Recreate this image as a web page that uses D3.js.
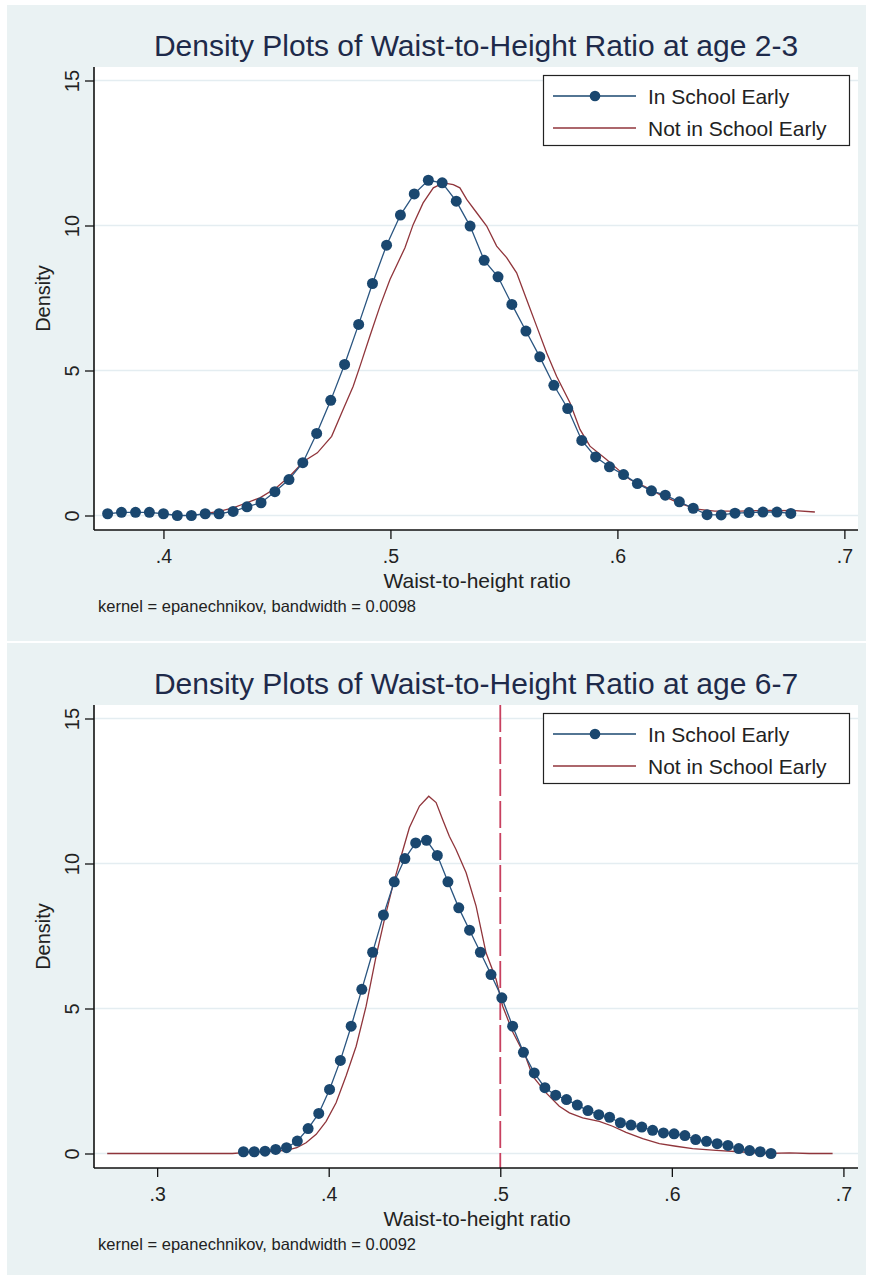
<!DOCTYPE html>
<html>
<head>
<meta charset="utf-8">
<script src="https://cdn.jsdelivr.net/npm/d3@7"></script>
<style>
  body { margin: 0; background: #fff; }
  svg text { font-family: "Liberation Sans", Arial, sans-serif; }
</style>
</head>
<body>
<svg id="chart" width="870" height="1275"></svg>
<script>
// ---- data (kernel density estimates) ----
const legendLabels = ['In School Early', 'Not in School Early'];
const yTicks = [0, 5, 10, 15];

// age 2-3
const titleA = 'Density Plots of Waist-to-Height Ratio at age 2-3';
const noteA = 'kernel = epanechnikov, bandwidth = 0.0098';
const xTicksA = [0.4, 0.5, 0.6, 0.7];
const inSchoolA_x = [0.3754, 0.3815, 0.3877, 0.3938, 0.4000, 0.4061, 0.4123, 0.4184, 0.4245, 0.4307,
  0.4368, 0.4430, 0.4491, 0.4553, 0.4614, 0.4675, 0.4737, 0.4798, 0.4860, 0.4921,
  0.4983, 0.5044, 0.5105, 0.5167, 0.5228, 0.5290, 0.5351, 0.5413, 0.5474, 0.5535,
  0.5597, 0.5658, 0.5720, 0.5781, 0.5843, 0.5904, 0.5965, 0.6027, 0.6088, 0.6150,
  0.6211, 0.6273, 0.6334, 0.6395, 0.6457, 0.6518, 0.6580, 0.6641, 0.6703, 0.6764];
const inSchoolA_y = [0.06, 0.11, 0.11, 0.11, 0.06, 0.0, 0.0, 0.06, 0.06, 0.14,
  0.30, 0.44, 0.82, 1.24, 1.82, 2.83, 3.97, 5.21, 6.59, 8.00,
  9.32, 10.36, 11.09, 11.56, 11.47, 10.84, 9.98, 8.80, 8.23, 7.28,
  6.36, 5.47, 4.49, 3.69, 2.59, 2.02, 1.68, 1.41, 1.10, 0.85,
  0.70, 0.47, 0.25, 0.03, 0.02, 0.08, 0.10, 0.12, 0.12, 0.07];
const notSchoolA_x = [0.4190, 0.4249, 0.4307, 0.4367, 0.4425, 0.4496, 0.4557, 0.4619, 0.4678, 0.4741,
  0.4792, 0.4836, 0.4866, 0.4910, 0.4954, 0.4998, 0.5064, 0.5100, 0.5144, 0.5189,
  0.5233, 0.5277, 0.5306, 0.5336, 0.5380, 0.5424, 0.5468, 0.5512, 0.5556, 0.5600,
  0.5644, 0.5688, 0.5732, 0.5791, 0.5835, 0.5879, 0.5952, 0.6011, 0.6055, 0.6121,
  0.6187, 0.6275, 0.6350, 0.6429, 0.6540, 0.6672, 0.6782, 0.6870];
const notSchoolA_y = [0.07, 0.15, 0.26, 0.44, 0.61, 0.95, 1.36, 1.87, 2.16, 2.73,
  3.66, 4.46, 5.15, 6.20, 7.22, 8.14, 9.23, 10.03, 10.78, 11.30,
  11.47, 11.41, 11.30, 10.90, 10.44, 9.98, 9.29, 8.89, 8.37, 7.45,
  6.53, 5.61, 4.80, 3.89, 2.97, 2.39, 1.93, 1.53, 1.24, 1.00,
  0.72, 0.42, 0.22, 0.15, 0.15, 0.18, 0.17, 0.12];

// age 6-7
const titleB = 'Density Plots of Waist-to-Height Ratio at age 6-7';
const noteB = 'kernel = epanechnikov, bandwidth = 0.0092';
const xTicksB = [0.3, 0.4, 0.5, 0.6, 0.7];
const refLineB = 0.5;
const inSchoolB_x = [0.3503, 0.3566, 0.3629, 0.3691, 0.3754, 0.3817, 0.3880, 0.3942, 0.4005, 0.4068,
  0.4131, 0.4193, 0.4256, 0.4319, 0.4382, 0.4444, 0.4507, 0.4570, 0.4633, 0.4695,
  0.4758, 0.4821, 0.4884, 0.4946, 0.5009, 0.5072, 0.5135, 0.5198, 0.5260, 0.5323,
  0.5386, 0.5449, 0.5511, 0.5574, 0.5637, 0.5700, 0.5762, 0.5825, 0.5888, 0.5951,
  0.6013, 0.6076, 0.6139, 0.6202, 0.6264, 0.6327, 0.6390, 0.6453, 0.6515, 0.6578];
const inSchoolB_y = [0.06, 0.06, 0.08, 0.14, 0.20, 0.43, 0.86, 1.38, 2.21, 3.21,
  4.39, 5.66, 6.94, 8.22, 9.37, 10.17, 10.71, 10.80, 10.28, 9.37,
  8.47, 7.70, 6.94, 6.17, 5.37, 4.39, 3.49, 2.78, 2.27, 2.01,
  1.86, 1.67, 1.48, 1.34, 1.25, 1.06, 0.98, 0.91, 0.80, 0.71,
  0.68, 0.62, 0.48, 0.42, 0.34, 0.28, 0.17, 0.10, 0.06, 0.0];
const notSchoolB_x = [0.2709, 0.3439, 0.3503, 0.3625, 0.3752, 0.3814, 0.3868, 0.3927, 0.3985, 0.4043,
  0.4101, 0.4160, 0.4218, 0.4276, 0.4325, 0.4373, 0.4422, 0.4470, 0.4529, 0.4583,
  0.4626, 0.4664, 0.4703, 0.4742, 0.4801, 0.4859, 0.4917, 0.4976, 0.5014, 0.5072,
  0.5150, 0.5189, 0.5267, 0.5344, 0.5403, 0.5480, 0.5577, 0.5655, 0.5733, 0.5830,
  0.5927, 0.6024, 0.6121, 0.6258, 0.6393, 0.6549, 0.6685, 0.6801, 0.6937];
const notSchoolB_y = [0.0, 0.0, 0.03, 0.06, 0.11, 0.20, 0.37, 0.66, 1.11, 1.75,
  2.67, 3.70, 5.08, 6.80, 8.07, 9.22, 10.25, 11.23, 11.98, 12.32,
  12.10, 11.52, 10.94, 10.48, 9.68, 8.53, 6.92, 6.00, 5.08, 4.20,
  3.30, 2.67, 2.09, 1.63, 1.40, 1.23, 1.11, 0.94, 0.73, 0.51,
  0.34, 0.25, 0.17, 0.11, 0.06, 0.0, 0.02, 0.0, 0.0];

// ---- styling ----
const blue = '#1a476f';
const red = '#90353b';
const panelBg = '#eaf2f3';
const textCol = '#1e2a4a';

const svg = d3.select('#chart');
const zip = (xs, ys) => xs.map((x, i) => ({ x: x, y: ys[i] }));

const drawPanel = (top, cfg) => {
  const g = svg.append('g').attr('transform', 'translate(0,' + top + ')');
  const plot = { left: 94, right: 858, top: 62, bottom: 525 };

  g.append('rect').attr('x', 7).attr('y', 0).attr('width', 859).attr('height', 636)
    .attr('fill', panelBg);
  g.append('rect').attr('x', plot.left).attr('y', plot.top)
    .attr('width', plot.right - plot.left).attr('height', plot.bottom - plot.top)
    .attr('fill', '#fff');

  const x = d3.scaleLinear().domain(cfg.xDomain).range([plot.left, plot.right]);
  const y = d3.scaleLinear().domain([0, 15]).range([510.5, 75.5]);

  // gridlines
  g.append('g').selectAll('line').data(yTicks).enter().append('line')
    .attr('x1', plot.left).attr('x2', plot.right)
    .attr('y1', d => y(d)).attr('y2', d => y(d))
    .attr('stroke', '#e4edf1').attr('stroke-width', 1.5);

  if (cfg.refLine != null) {
    g.append('line').attr('x1', x(cfg.refLine)).attr('x2', x(cfg.refLine))
      .attr('y1', plot.top).attr('y2', plot.bottom)
      .attr('stroke', '#c8405f').attr('stroke-width', 1.8)
      .attr('stroke-dasharray', '27,5');
  }

  const line = d3.line().x(d => x(d.x)).y(d => y(d.y));
  g.append('path').datum(zip(cfg.redX, cfg.redY)).attr('d', line)
    .attr('fill', 'none').attr('stroke', red).attr('stroke-width', 1.3);
  const blueData = zip(cfg.blueX, cfg.blueY);
  g.append('path').datum(blueData).attr('d', line)
    .attr('fill', 'none').attr('stroke', '#2a5580').attr('stroke-width', 1.3);
  g.append('g').selectAll('circle').data(blueData).enter().append('circle')
    .attr('cx', d => x(d.x)).attr('cy', d => y(d.y)).attr('r', 5.5)
    .attr('fill', blue);

  // axes
  const yAxis = d3.axisLeft(y).tickValues(yTicks).tickSize(9).tickFormat(d3.format('d'));
  const ya = g.append('g').attr('transform', 'translate(' + plot.left + ',0)').call(yAxis);
  ya.select('.domain').attr('d', 'M0,' + plot.top + 'V' + plot.bottom)
    .attr('stroke', '#111').attr('stroke-width', 1.6);
  ya.selectAll('.tick line').attr('stroke', '#111').attr('stroke-width', 1.3);
  ya.selectAll('.tick text').attr('transform', 'rotate(-90)')
    .attr('x', 0).attr('y', -15).attr('dy', 0)
    .attr('text-anchor', 'middle').attr('font-size', 20)
    .attr('fill', '#222').style('font-family', '"Liberation Sans", Arial, sans-serif');

  const xAxis = d3.axisBottom(x).tickValues(cfg.xTicks).tickSize(9)
    .tickFormat(d => d3.format('.1f')(d).replace(/^0/, ''));
  const xa = g.append('g').attr('transform', 'translate(0,' + plot.bottom + ')').call(xAxis);
  xa.select('.domain').attr('d', 'M' + plot.left + ',0H' + plot.right)
    .attr('stroke', '#111').attr('stroke-width', 1.6);
  xa.selectAll('.tick line').attr('stroke', '#111').attr('stroke-width', 1.3);
  xa.selectAll('.tick text').attr('y', 33).attr('dy', 0).attr('font-size', 19.5)
    .attr('fill', '#222').style('font-family', '"Liberation Sans", Arial, sans-serif');

  // titles
  g.append('text').attr('x', 476).attr('y', 51).attr('text-anchor', 'middle')
    .attr('font-size', 30).attr('fill', textCol).text(cfg.title);
  g.append('text').attr('x', 477).attr('y', 583).attr('text-anchor', 'middle')
    .attr('font-size', 21).attr('fill', '#222').text('Waist-to-height ratio');
  g.append('text').attr('transform', 'translate(50,' + ((plot.top + plot.bottom) / 2) + ') rotate(-90)')
    .attr('text-anchor', 'middle').attr('font-size', 20).attr('fill', '#222').text('Density');
  g.append('text').attr('x', 98).attr('y', 607)
    .attr('font-size', 16.5).attr('fill', '#222').text(cfg.note);

  // legend
  const lg = g.append('g');
  lg.append('rect').attr('x', 543.5).attr('y', 70.5).attr('width', 306).attr('height', 70)
    .attr('fill', '#fff').attr('stroke', '#222').attr('stroke-width', 1.2);
  const rows = [{ c: blue, m: true, yy: 91 }, { c: red, m: false, yy: 123 }];
  rows.forEach((r, i) => {
    lg.append('line').attr('x1', 553).attr('x2', 636).attr('y1', r.yy).attr('y2', r.yy)
      .attr('stroke', r.c).attr('stroke-width', 1.3);
    if (r.m) lg.append('circle').attr('cx', 595).attr('cy', r.yy).attr('r', 5.3).attr('fill', r.c);
    lg.append('text').attr('x', 648).attr('y', r.yy + 7.5).attr('font-size', 21)
      .attr('fill', '#222').text(legendLabels[i]);
  });
};

drawPanel(5, {
  title: titleA, note: noteA, xTicks: xTicksA, xDomain: [0.3694, 0.7060],
  blueX: inSchoolA_x, blueY: inSchoolA_y, redX: notSchoolA_x, redY: notSchoolA_y
});
drawPanel(643, {
  title: titleB, note: noteB, xTicks: xTicksB, xDomain: [0.2632, 0.7085], refLine: refLineB,
  blueX: inSchoolB_x, blueY: inSchoolB_y, redX: notSchoolB_x, redY: notSchoolB_y
});
</script>
</body>
</html>
